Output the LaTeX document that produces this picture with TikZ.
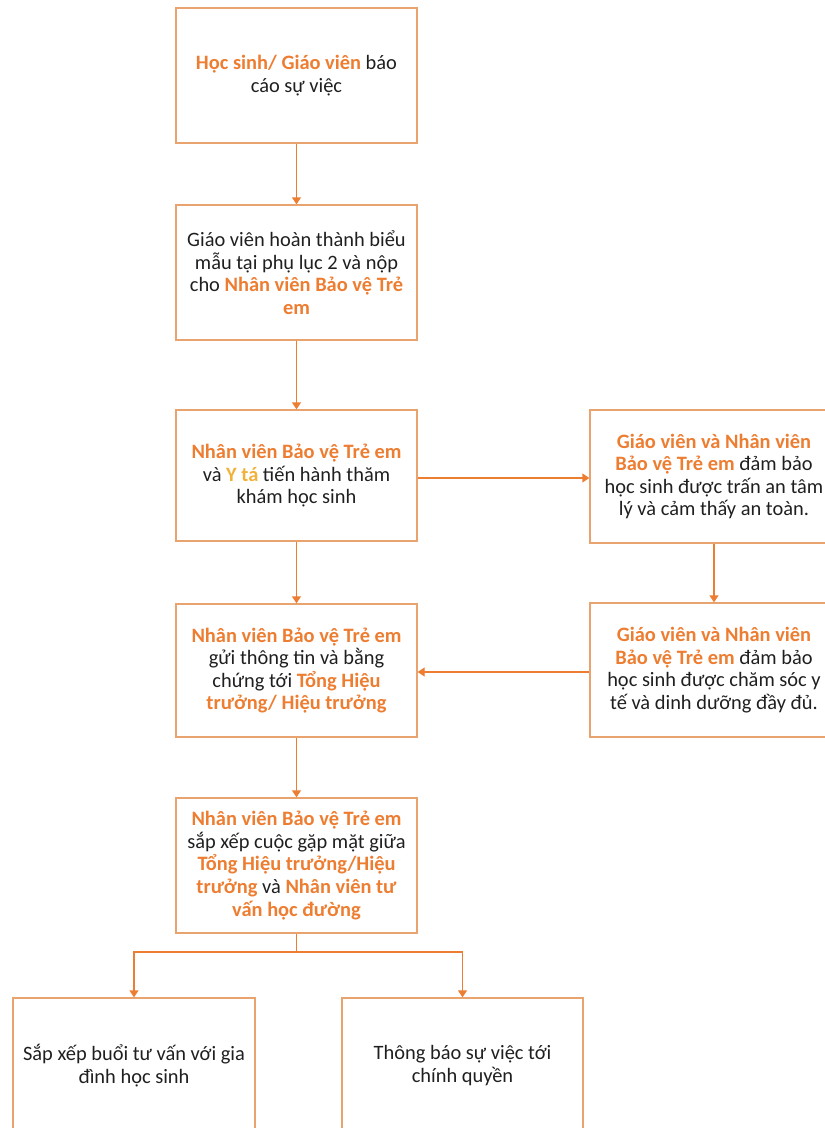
\documentclass[tikz,border=0pt]{standalone}
\usepackage{fontspec}
\setmainfont{Carlito}
\usetikzlibrary{arrows.meta}
\definecolor{orng}{HTML}{ED7D31}
\definecolor{brd}{HTML}{E9A36E}
\definecolor{ylw}{HTML}{F2B23A}
\definecolor{txt}{HTML}{1F1F1F}
\newcommand{\og}[1]{\textcolor{orng}{\textbf{#1}}}
\newcommand{\yw}[1]{\textcolor{ylw}{\textbf{#1}}}
\begin{document}
\begin{tikzpicture}[x=1bp,y=-1bp,
  boxnode/.style={draw=brd, line width=1.3bp, rectangle, minimum width=241bp, minimum height=135bp, align=center, text=txt, font=\fontsize{20.5}{22.7}\selectfont, inner sep=0pt},
  conn/.style={draw=orng, line width=1.3bp, -{Triangle[width=9bp,length=7bp]}},
  plain/.style={draw=orng, line width=1.3bp}]
\useasboundingbox (0,0) rectangle (825,1128);
\node[boxnode] (b1) at (296.5,75.5) {\og{Học sinh/ Giáo viên} báo\\cáo sự việc};
\node[boxnode] (b2) at (296.5,272.5) {Giáo viên hoàn thành biểu\\mẫu tại phụ lục 2 và nộp\\cho \og{Nhân viên Bảo vệ Trẻ}\\\og{em}};
\node[boxnode, minimum height=131bp] (b3) at (296.5,475.5) {\og{Nhân viên Bảo vệ Trẻ em}\\và \yw{Y tá} tiến hành thăm\\khám học sinh};
\node[boxnode, minimum width=248bp, minimum height=133bp] (ra) at (714,476.5) {\og{Giáo viên và Nhân viên}\\\og{Bảo vệ Trẻ em} đảm bảo\\học sinh được trấn an tâm\\lý và cảm thấy an toàn.};
\node[boxnode, minimum width=248bp, minimum height=134bp] (rb) at (714,670) {\og{Giáo viên và Nhân viên}\\\og{Bảo vệ Trẻ em} đảm bảo\\học sinh được chăm sóc y\\tế và dinh dưỡng đầy đủ.};
\node[boxnode, minimum height=133bp] (b4) at (296.5,670.5) {\og{Nhân viên Bảo vệ Trẻ em}\\gửi thông tin và bằng\\chứng tới \og{Tổng Hiệu}\\\og{trưởng/ Hiệu trưởng}};
\node[boxnode] (b5) at (296.5,865.5) {\og{Nhân viên Bảo vệ Trẻ em}\\sắp xếp cuộc gặp mặt giữa\\\og{Tổng Hiệu trưởng/Hiệu}\\\og{trưởng} và \og{Nhân viên tư}\\\og{vấn học đường}};
\node[boxnode, minimum width=242bp] (bl) at (134,1065.5) {Sắp xếp buổi tư vấn với gia\\đình học sinh};
\node[boxnode] (br) at (462.5,1065.5) {Thông báo sự việc tới\\chính quyền};
\coordinate (sp) at (296.5,952);
\draw[conn] (b1.south) -- (b2.north);
\draw[conn] (b2.south) -- (b3.north);
\draw[conn] (b3.south) -- (b4.north);
\draw[conn] (b3.east |- 0,478) -- (ra.west |- 0,478);
\draw[conn] (ra.south) -- (rb.north);
\draw[conn] (rb.west |- 0,672) -- (b4.east |- 0,672);
\draw[conn] (b4.south) -- (b5.north);
\draw[plain] (b5.south) -- (sp);
\draw[conn] (sp) -| (bl.north);
\draw[conn] (sp) -| (br.north);
\end{tikzpicture}
\end{document}
